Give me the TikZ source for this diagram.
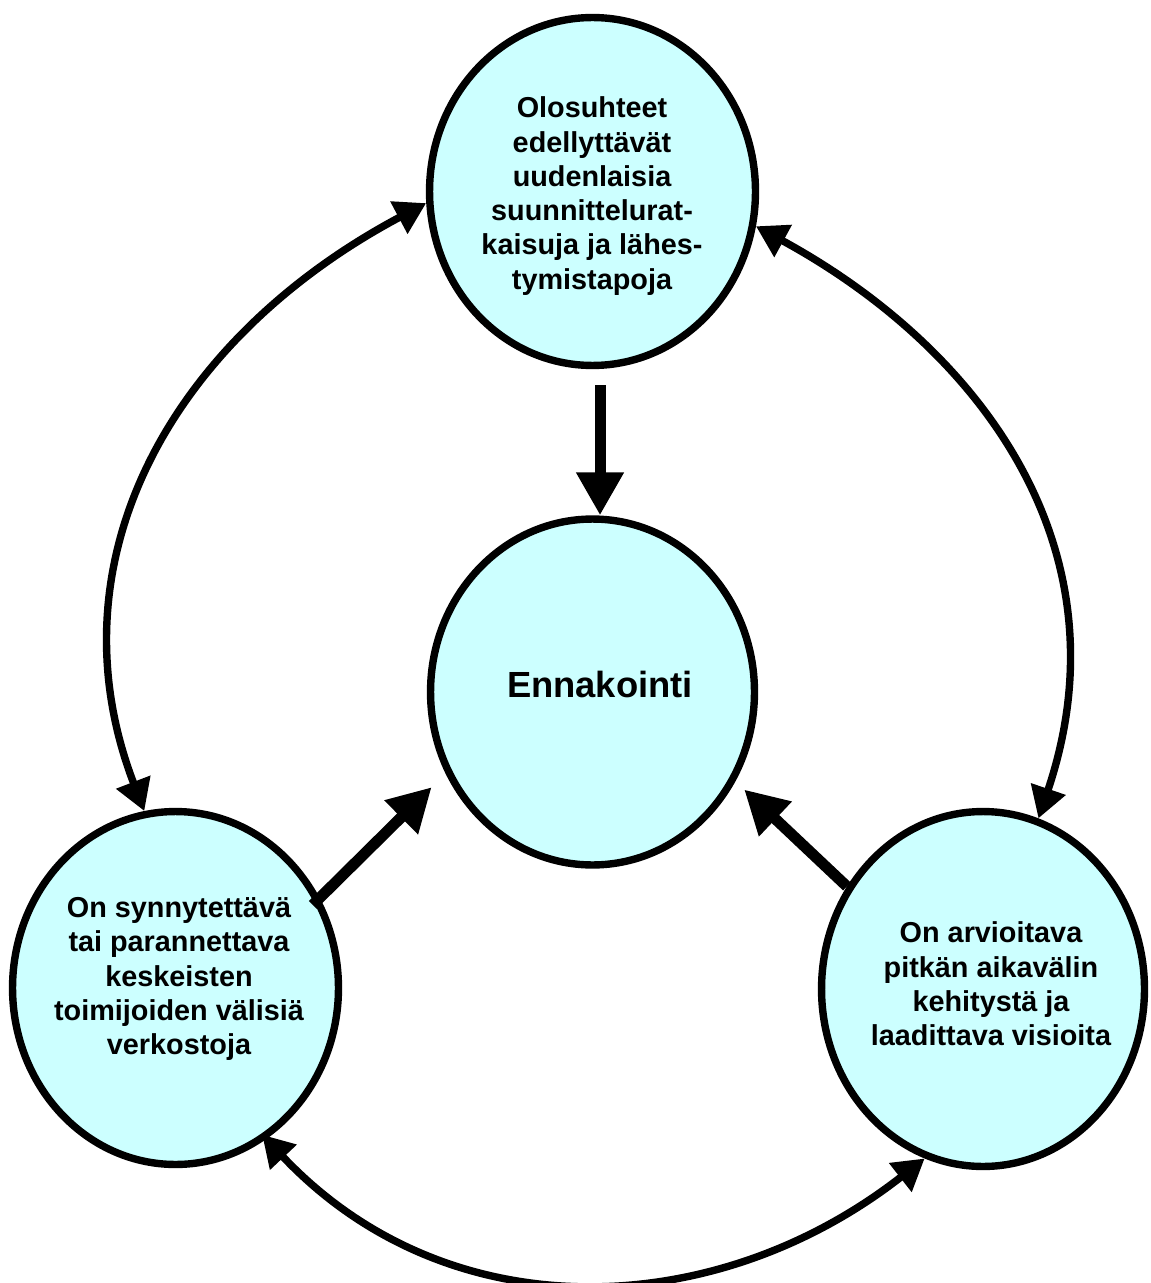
\documentclass[tikz,border=0pt]{standalone}
\usepackage{fontspec}
\setmainfont{Liberation Sans}
\usetikzlibrary{arrows.meta,shapes.geometric}
\definecolor{bubblefill}{RGB}{204,255,255}
\begin{document}
\begin{tikzpicture}[x=0.02cm,y=-0.02cm,
  bubble/.style={ellipse, draw=black, fill=bubblefill, line width=0.148cm, inner sep=0pt},
  bubbletext/.style={align=center, inner sep=0pt,
    font=\bfseries\fontsize{16.4pt}{19.5pt}\selectfont},
  bigarrow/.style={line width=0.22cm, -{Triangle[length=0.86cm,width=0.9cm]}},
  arcarrow/.style={line width=0.148cm,
    {Triangle[length=0.62cm,width=0.7cm]}-{Triangle[length=0.62cm,width=0.7cm]}}]

\useasboundingbox (0,0) rectangle (1150,1283);

% the four bubbles
\node[bubble, minimum width=6.52cm, minimum height=6.96cm] (top) at (592.5,191.5) {};
\node[bubble, minimum width=6.48cm, minimum height=6.92cm] (ctr) at (592.5,692) {};
\node[bubble, minimum width=6.52cm, minimum height=7.06cm] (bl) at (175.5,988) {};
\node[bubble, minimum width=6.46cm, minimum height=7.10cm] (br) at (983,989) {};

% texts
\node[bubbletext] (toptext) at (592,196)
  {Olosuhteet\\edellyttävät\\uudenlaisia\\suunnittelurat-\\kaisuja ja lähes-\\tymistapoja};
\node[bubbletext, font=\bfseries\fontsize{20.7pt}{24pt}\selectfont] (ctrtext) at (600,684) {Ennakointi};
\node[bubbletext] (bltext) at (179,979)
  {On synnytettävä\\tai parannettava\\keskeisten\\toimijoiden välisiä\\verkostoja};
\node[bubbletext] (brtext) at (991,984)
  {On arvioitava\\pitkän aikavälin\\kehitystä ja\\laadittava visioita};

% straight arrows into the centre
\coordinate (vx) at (600,0);
\draw[bigarrow, shorten <=0.32cm] (top.south -| vx) -- (ctr.north -| vx);
\draw[bigarrow, shorten <=-0.2cm, shorten >=0.39cm] (bl.32) -- (ctr.209);
\draw[bigarrow, shorten >=0.24cm] (br.143) -- (ctr.328);

% curved two-way arrows around the outside
\draw[arcarrow] (top.184) .. controls +(-252,134) and +(-97,-253) .. (bl.100);
\draw[arcarrow] (top.348) .. controls +(224,122) and +(91,-270) .. (br.72);
\draw[arcarrow, shorten <=-0.12cm] (bl.301) .. controls +(182,193) and +(-209,163.5) .. (br.251);

\end{tikzpicture}
\end{document}
